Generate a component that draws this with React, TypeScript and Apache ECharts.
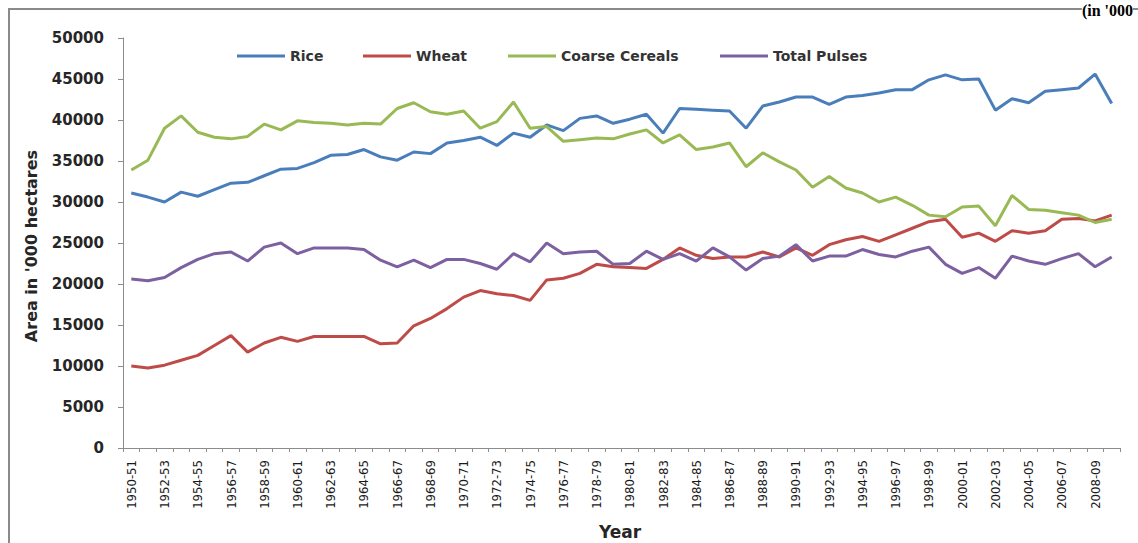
import React, { useEffect, useRef } from "react";
import * as echarts from "echarts";

const years = [
  "1950-51", "1951-52", "1952-53", "1953-54", "1954-55", "1955-56", "1956-57", "1957-58", "1958-59", "1959-60",
  "1960-61", "1961-62", "1962-63", "1963-64", "1964-65", "1965-66", "1966-67", "1967-68", "1968-69", "1969-70",
  "1970-71", "1971-72", "1972-73", "1973-74", "1974-75", "1975-76", "1976-77", "1977-78", "1978-79", "1979-80",
  "1980-81", "1981-82", "1982-83", "1983-84", "1984-85", "1985-86", "1986-87", "1987-88", "1988-89", "1989-90",
  "1990-91", "1991-92", "1992-93", "1993-94", "1994-95", "1995-96", "1996-97", "1997-98", "1998-99", "1999-00",
  "2000-01", "2001-02", "2002-03", "2003-04", "2004-05", "2005-06", "2006-07", "2007-08", "2008-09", "2009-10",
];

const rice = [
  31100, 30600, 30000, 31200, 30700, 31500, 32300, 32400, 33200, 34000,
  34100, 34800, 35700, 35800, 36400, 35500, 35100, 36100, 35900, 37200,
  37500, 37900, 36900, 38400, 37900, 39400, 38700, 40200, 40500, 39600,
  40100, 40700, 38400, 41400, 41300, 41200, 41100, 39000, 41700, 42200,
  42800, 42800, 41900, 42800, 43000, 43300, 43700, 43700, 44900, 45500,
  44900, 45000, 41200, 42600, 42100, 43500, 43700, 43900, 45600, 42000,
];

const wheat = [
  10000, 9750, 10100, 10700, 11300, 12500, 13700, 11700, 12800, 13500,
  13000, 13600, 13600, 13600, 13600, 12700, 12800, 14900, 15800, 17000,
  18400, 19200, 18800, 18600, 18000, 20500, 20700, 21300, 22400, 22100,
  22000, 21900, 23000, 24400, 23500, 23100, 23300, 23300, 23900, 23300,
  24400, 23500, 24800, 25400, 25800, 25200, 26000, 26800, 27600, 27900,
  25700, 26200, 25200, 26500, 26200, 26500, 27900, 28000, 27700, 28400,
];

const coarseCereals = [
  33900, 35100, 39000, 40500, 38500, 37900, 37700, 38000, 39500, 38800,
  39900, 39700, 39600, 39400, 39600, 39500, 41400, 42100, 41000, 40700,
  41100, 39000, 39800, 42200, 39000, 39200, 37400, 37600, 37800, 37700,
  38300, 38800, 37200, 38200, 36400, 36700, 37200, 34300, 36000, 34900,
  33900, 31800, 33100, 31700, 31100, 30000, 30600, 29600, 28400, 28200,
  29400, 29500, 27100, 30800, 29100, 29000, 28700, 28400, 27500, 27900,
];

const totalPulses = [
  20600, 20400, 20800, 22000, 23000, 23700, 23900, 22800, 24500, 25000,
  23700, 24400, 24400, 24400, 24200, 22900, 22100, 22900, 22000, 23000,
  23000, 22500, 21800, 23700, 22700, 25000, 23700, 23900, 24000, 22400,
  22500, 24000, 23000, 23700, 22800, 24400, 23300, 21700, 23100, 23400,
  24800, 22800, 23400, 23400, 24200, 23600, 23300, 24000, 24500, 22400,
  21300, 22000, 20700, 23400, 22800, 22400, 23100, 23700, 22100, 23300,
];

const seriesNames = ["Rice", "Wheat", "Coarse Cereals", "Total Pulses"];
const seriesData = [rice, wheat, coarseCereals, totalPulses];
const seriesColors = ["#4a7ebb", "#be4b48", "#98b954", "#7d60a0"];
const legendLefts = [232, 358, 503, 715];

export default function App() {
  const ref = useRef<HTMLDivElement>(null);

  useEffect(() => {
    if (!ref.current) return;
    const chart = echarts.init(ref.current, undefined, { renderer: "svg" });
    const textColor = "#262626";
    const option: any = {
      animation: false,
      backgroundColor: "#ffffff",
      grid: { left: 123, right: 18, top: 38, bottom: 95 },
      legend: seriesNames.map((name, i) => ({
        data: [{ name, icon: "rect", itemStyle: { color: seriesColors[i] } }],
        left: legendLefts[i],
        top: 44,
        itemWidth: 48,
        itemHeight: 3,
        itemGap: 5,
        selectedMode: false,
        textStyle: {
          fontFamily: "DejaVu Sans",
          fontWeight: "bold",
          fontSize: 14,
          color: "#333333",
        },
      })),
      xAxis: {
        type: "category",
        data: years,
        boundaryGap: true,
        axisLine: { show: true, lineStyle: { color: "#8c8c8c", width: 1 } },
        axisTick: { show: true, interval: 0, length: 4, lineStyle: { color: "#8c8c8c" } },
        axisLabel: {
          interval: 1,
          rotate: 90,
          margin: 12,
          fontFamily: "DejaVu Sans Condensed",
          fontSize: 13,
          color: "#1a1a1a",
        },
        splitLine: { show: false },
      },
      yAxis: {
        type: "value",
        min: 0,
        max: 50000,
        interval: 5000,
        axisLine: { show: true, lineStyle: { color: "#8c8c8c", width: 1 } },
        axisTick: { show: true, length: 5, lineStyle: { color: "#8c8c8c" } },
        axisLabel: {
          margin: 19,
          formatter: (v: number) => String(v),
          fontFamily: "DejaVu Sans",
          fontWeight: "bold",
          fontSize: 15,
          color: textColor,
        },
        splitLine: { show: false },
      },
      graphic: [
        {
          type: "rect",
          z: -1,
          shape: { x: 9, y: 9, width: 1140, height: 545 },
          style: { fill: "none", stroke: "#8a8a8a", lineWidth: 2 },
        },
        {
          type: "text",
          x: 1133,
          y: 1,
          style: {
            text: "(in '000",
            fontFamily: "Liberation Serif",
            fontWeight: "bold",
            fontSize: 16,
            lineHeight: 18,
            fill: "#000000",
            backgroundColor: "#ffffff",
            align: "right",
            verticalAlign: "top",
          },
        },
        {
          type: "text",
          x: 31,
          y: 246,
          rotation: Math.PI / 2,
          style: {
            text: "Area in '000 hectares",
            fontFamily: "DejaVu Sans",
            fontWeight: "bold",
            fontSize: 16,
            fill: textColor,
            align: "center",
            verticalAlign: "middle",
          },
        },
        {
          type: "text",
          x: 620,
          y: 532,
          style: {
            text: "Year",
            fontFamily: "DejaVu Sans",
            fontWeight: "bold",
            fontSize: 17,
            fill: textColor,
            align: "center",
            verticalAlign: "middle",
          },
        },
      ],
      series: seriesNames.map((name, i) => ({
        name,
        type: "line",
        data: seriesData[i],
        symbol: "none",
        smooth: false,
        color: seriesColors[i],
        lineStyle: { color: seriesColors[i], width: 3 },
      })),
    };
    chart.setOption(option);
    return () => {
      chart.dispose();
    };
  }, []);

  return (
    <div
      ref={ref}
      style={{ position: "absolute", left: 0, top: 0, width: 1138, height: 543 }}
    />
  );
}
